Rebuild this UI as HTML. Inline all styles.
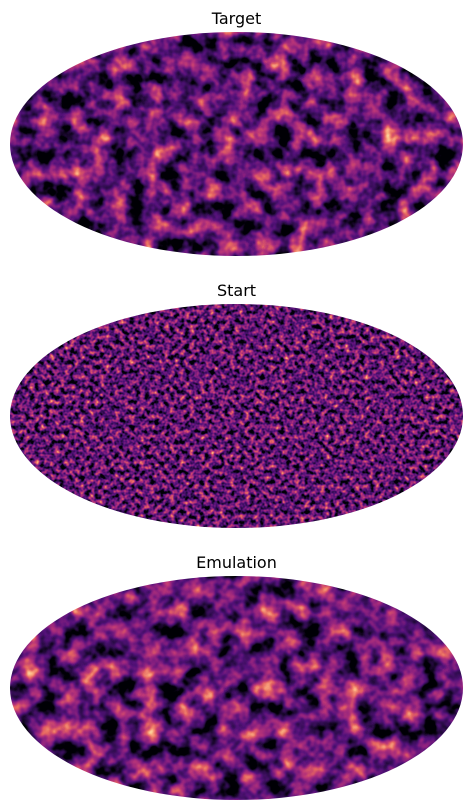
<!DOCTYPE html>
<html><head><meta charset="utf-8"><style>
html,body{margin:0;padding:0;background:#fff;width:472px;height:812px;overflow:hidden}
svg{display:block}
text{font-family:"DejaVu Sans","Liberation Sans",sans-serif;font-size:16px;fill:#000}
</style></head><body>
<svg width="472" height="812">
<defs>
<filter id="fSmooth" x="0" y="0" width="100%" height="100%" color-interpolation-filters="sRGB">
<feTurbulence type="fractalNoise" baseFrequency="0.055" numOctaves="3" seed="3"/>
<feColorMatrix type="matrix" values="1.5 0 0 0 -0.45  1.5 0 0 0 -0.45  1.5 0 0 0 -0.45  0 0 0 0 1"/>
<feComponentTransfer>
<feFuncR type="table" tableValues="0 0.18 0.33 0.55 0.73 0.9 0.99 0.99"/>
<feFuncG type="table" tableValues="0 0.05 0.07 0.13 0.21 0.4 0.68 0.99"/>
<feFuncB type="table" tableValues="0.02 0.3 0.48 0.5 0.47 0.38 0.5 0.75"/>
</feComponentTransfer>
</filter>
<filter id="fSmooth2" x="0" y="0" width="100%" height="100%" color-interpolation-filters="sRGB">
<feTurbulence type="fractalNoise" baseFrequency="0.05" numOctaves="3" seed="11"/>
<feColorMatrix type="matrix" values="1.5 0 0 0 -0.43  1.5 0 0 0 -0.43  1.5 0 0 0 -0.43  0 0 0 0 1"/>
<feComponentTransfer>
<feFuncR type="table" tableValues="0 0.18 0.33 0.55 0.73 0.9 0.99 0.99"/>
<feFuncG type="table" tableValues="0 0.05 0.07 0.13 0.21 0.4 0.68 0.99"/>
<feFuncB type="table" tableValues="0.02 0.3 0.48 0.5 0.47 0.38 0.5 0.75"/>
</feComponentTransfer>
</filter>
<filter id="fRough" x="0" y="0" width="100%" height="100%" color-interpolation-filters="sRGB">
<feTurbulence type="fractalNoise" baseFrequency="0.2" numOctaves="2" seed="7"/>
<feColorMatrix type="matrix" values="1.5 0 0 0 -0.45  1.5 0 0 0 -0.45  1.5 0 0 0 -0.45  0 0 0 0 1"/>
<feComponentTransfer>
<feFuncR type="table" tableValues="0 0.18 0.33 0.55 0.73 0.9 0.99 0.99"/>
<feFuncG type="table" tableValues="0 0.05 0.07 0.13 0.21 0.4 0.68 0.99"/>
<feFuncB type="table" tableValues="0.02 0.3 0.48 0.5 0.47 0.38 0.5 0.75"/>
</feComponentTransfer>
</filter>
<clipPath id="c1"><ellipse cx="236.5" cy="144" rx="226.5" ry="112"/></clipPath>
<clipPath id="c2"><ellipse cx="236.5" cy="416" rx="226.5" ry="112"/></clipPath>
<clipPath id="c3"><ellipse cx="236.5" cy="688" rx="226.5" ry="112"/></clipPath>
</defs>
<text x="236.5" y="24" text-anchor="middle">Target</text>
<g clip-path="url(#c1)">
<rect x="10" y="32" width="453" height="224" fill="#4a1070" filter="url(#fSmooth)"/>
</g>
<text x="236.5" y="296" text-anchor="middle">Start</text>
<g clip-path="url(#c2)">
<rect x="10" y="304" width="453" height="224" fill="#4a1070" filter="url(#fRough)"/>
</g>
<text x="236.5" y="568" text-anchor="middle">Emulation</text>
<g clip-path="url(#c3)">
<rect x="10" y="576" width="453" height="224" fill="#4a1070" filter="url(#fSmooth2)"/>
</g>
</svg>
</body></html>
